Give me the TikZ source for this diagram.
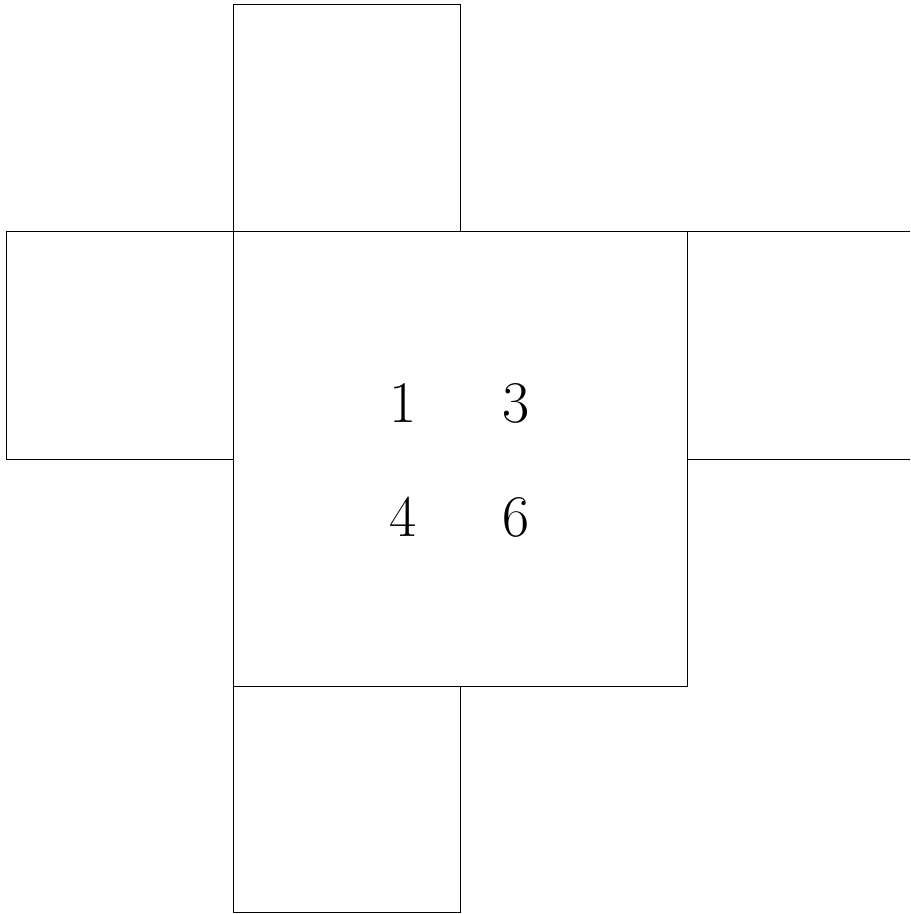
\documentclass[tikz,border=0pt]{standalone}
\begin{document}
\begin{tikzpicture}[x=0.5pt,y=-0.5pt,
  facebox/.style={draw=black,line width=0.5pt},
  digit/.style={inner sep=0pt,font=\fontsize{29.5}{35}\selectfont}]
\useasboundingbox (0,0) rectangle (910,914);
\draw[facebox] (233,5) rectangle (460,232);
\draw[facebox] (6,232) rectangle (233,459);
\draw[facebox] (233,232) rectangle (687,686);
\draw[facebox] (910,232) -- (687,232) -- (687,459) -- (910,459);
\draw[facebox] (233,686) rectangle (460,912);
\node[digit] (n1) at (403,403) {1};
\node[digit] (n3) at (516,403) {3};
\node[digit] (n4) at (403,517) {4};
\node[digit] (n6) at (516,517) {6};
\end{tikzpicture}
\end{document}
